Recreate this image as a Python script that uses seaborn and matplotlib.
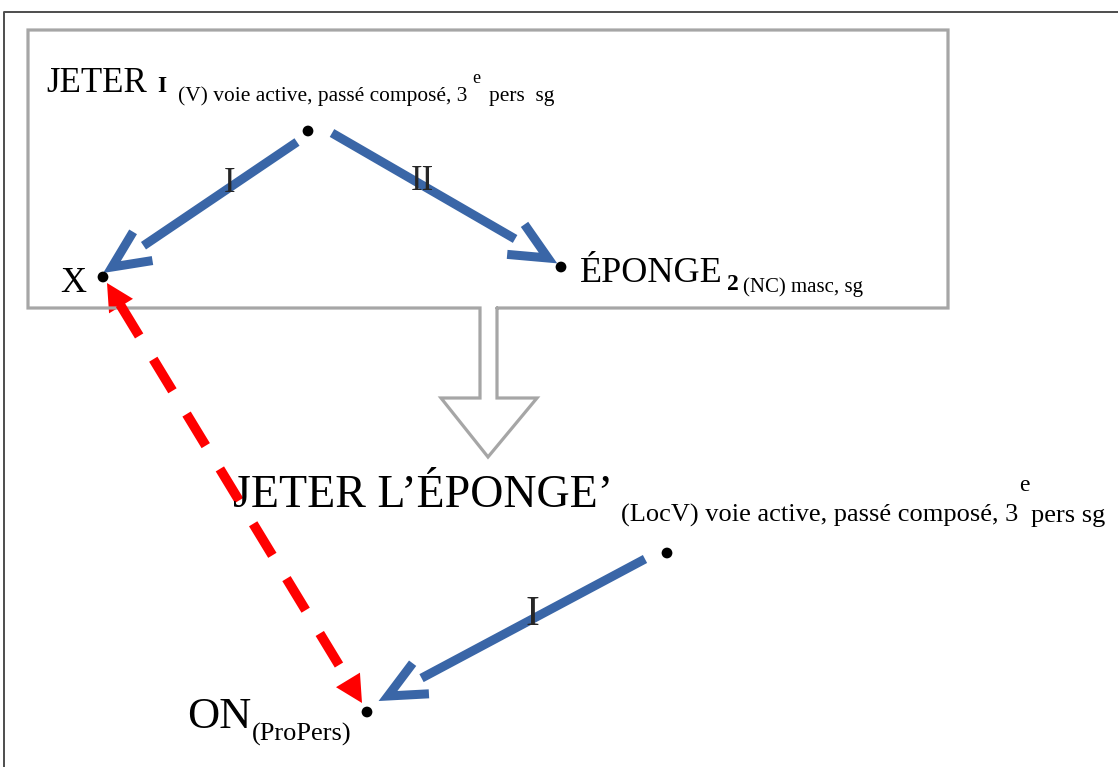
import numpy as np
import pandas as pd
import seaborn as sns
import matplotlib.pyplot as plt

# noeuds du schéma (coordonnées en pixels de l'image)
node_names = ["JETER", "X", "ÉPONGE", "JETER L’ÉPONGE’", "ON"]
node_x = [308, 103, 561, 667, 367]
node_y = [131, 277, 267, 553, 712]

# flèches bleues (relations I / II)
blue_labels = ["I", "II", "I"]
blue_from_x = [297, 332, 645]
blue_from_y = [142, 133, 559]
blue_to_x = [112, 548, 388]
blue_to_y = [267, 258, 696]

# flèche rouge pointillée (X <-> ON)
red_x = [107, 362]
red_y = [283, 703]

sns.set_theme(style="white")
plt.rcParams['font.family'] = ['Liberation Serif', 'DejaVu Serif']

fig = plt.figure(figsize=(11.18, 7.67), dpi=100)
ax = fig.add_axes([0, 0, 1, 1])

# cadre extérieur
ax.plot([4, 4, 1118], [767, 12, 12], color='#4d4d4d', lw=1.4)

# boîte grise + grosse flèche creuse
box_x = [497, 948, 948, 28, 28, 480, 480, 441, 488, 537, 497, 497]
box_y = [308, 308, 30, 30, 308, 308, 398, 398, 457, 398, 398, 308]
ax.plot(box_x, box_y, color='#A6A6A6', lw=2.3, solid_joinstyle='miter')

blue = '#3A66A7'


def chevron_arrow(x0, y0, x1, y1):
    d = np.array([x0 - x1, y0 - y1], dtype=float)
    d /= np.hypot(*d)
    # corps
    end = np.array([x1, y1]) + d * 38
    ax.plot([x0, end[0]], [y0, end[1]], color=blue, lw=6.5, solid_capstyle='butt')
    # pointe ouverte
    ang = np.deg2rad(25)
    arms = []
    for a in (ang, -ang):
        r = np.array([[np.cos(a), -np.sin(a)], [np.sin(a), np.cos(a)]]) @ d
        arms.append(np.array([x1, y1]) + r * 41)
    ax.plot([arms[0][0], x1, arms[1][0]], [arms[0][1], y1, arms[1][1]],
            color=blue, lw=6.5, solid_capstyle='butt', solid_joinstyle='miter')


for i in range(len(blue_labels)):
    chevron_arrow(blue_from_x[i], blue_from_y[i], blue_to_x[i], blue_to_y[i])

# étiquettes des flèches
ax.text(230, 184, blue_labels[0], fontsize=25, ha='center', va='center')
ax.text(422, 182, blue_labels[1], fontsize=25, ha='center', va='center')
ax.text(532, 615, blue_labels[2], fontsize=30, ha='center', va='center')

# flèche rouge : tirets + deux pointes pleines
p0 = np.array([red_x[0], red_y[0]], dtype=float)
p1 = np.array([red_x[1], red_y[1]], dtype=float)
u = (p1 - p0) / np.hypot(*(p1 - p0))
n = np.array([-u[1], u[0]])
hl, hw = 27, 14
b0 = p0 + u * hl
b1 = p1 - u * hl
ax.plot([b0[0] - u[0] * 2, b1[0] + u[0] * 2], [b0[1] - u[1] * 2, b1[1] + u[1] * 2],
        color='#FF0000', lw=7, linestyle=(0, (3.8, 2.8)), dash_capstyle='butt')
for tip, base in ((p0, b0), (p1, b1)):
    tri = np.array([tip, base + n * hw, base - n * hw])
    ax.fill(tri[:, 0], tri[:, 1], color='#FF0000', lw=0)

# points des noeuds
nodes = pd.DataFrame({'nom': node_names, 'x': node_x, 'y': node_y})
sns.scatterplot(data=nodes, x='x', y='y', color='black', s=60, edgecolor='none',
                legend=False, ax=ax, zorder=5)
ax.set_xlim(0, 1118)
ax.set_ylim(767, 0)
ax.axis('off')

# textes
kw = dict(va='baseline', ha='left', color='black')
ax.text(46, 92, "JETER", fontsize=25, **kw)
ax.text(157, 92, "I", fontsize=17, fontweight='bold', **kw)
ax.text(178, 101, "(V) voie active, passé composé, 3", fontsize=15.4, **kw)
ax.text(472, 83, "e", fontsize=13, **kw)
ax.text(489, 101, "pers  sg", fontsize=15.4, **kw)

ax.text(60, 292, "X", fontsize=26, **kw)
ax.text(580, 282, "ÉPONGE", fontsize=26, **kw)
ax.text(727, 290, "2", fontsize=17, fontweight='bold', **kw)
ax.text(743, 292, "(NC) masc, sg", fontsize=15, **kw)

ax.text(233, 507, "JETER L’ÉPONGE’", fontsize=33, **kw)
ax.text(621, 522, "(LocV) voie active, passé composé, 3", fontsize=19, **kw)
ax.text(1019, 491, "e", fontsize=17, **kw)
ax.text(1031, 522, "pers sg", fontsize=19, **kw)

ax.text(187, 728, "ON", fontsize=32, **kw)
ax.text(252, 741, "(ProPers)", fontsize=19, **kw)

fig.savefig('out.png', dpi=100)
